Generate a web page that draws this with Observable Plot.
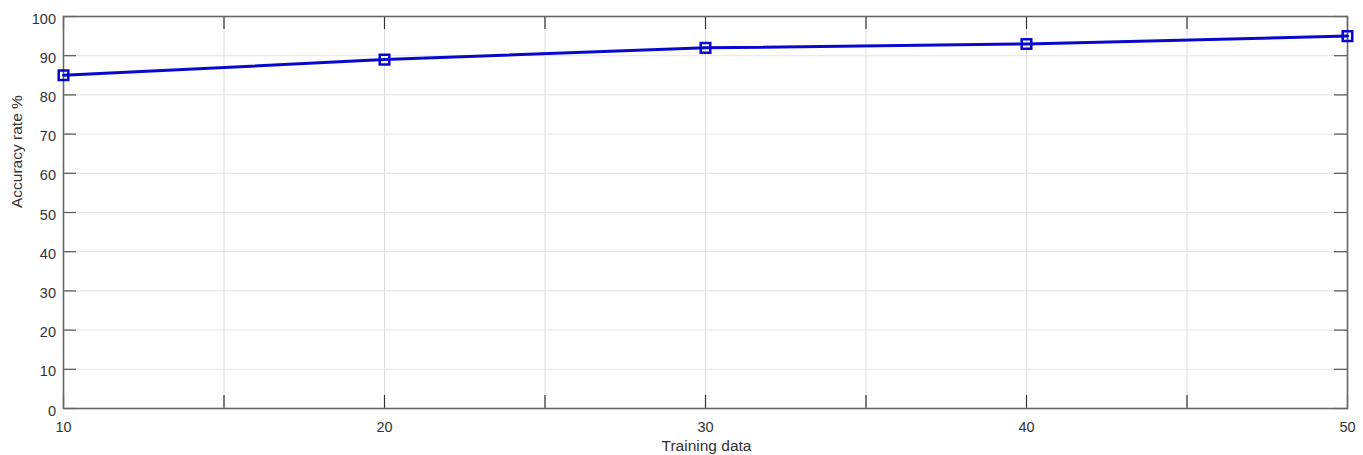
<!DOCTYPE html>
<html>
<head>
<meta charset="utf-8">
<script src="https://cdn.jsdelivr.net/npm/d3@7"></script>
<script src="https://cdn.jsdelivr.net/npm/@observablehq/plot@0.6"></script>
<style>
  html, body { margin: 0; padding: 0; background: #fff; }
  #chart svg { display: block; }
</style>
</head>
<body>
<div id="chart"></div>
<script>
const trainingData = [10, 20, 30, 40, 50];
const accuracy = [85, 89, 92, 93, 95];
const xTicks = [10, 15, 20, 25, 30, 35, 40, 45, 50];
const xLabelTicks = [10, 20, 30, 40, 50];
const yTicks = [0, 10, 20, 30, 40, 50, 60, 70, 80, 90, 100];

const rows = trainingData.map((t, i) => ({t, a: accuracy[i]}));

const W = 1363, H = 455;
const mL = 63, mR = 16, mT = 16, mB = 47;
const plotH = H - mT - mB;
const plotW = W - mL - mR;
const tickLen = 13;
const font = "Liberation Sans, Arial, Helvetica, sans-serif";

const chart = Plot.plot({
  width: W,
  height: H,
  marginLeft: mL,
  marginRight: mR,
  marginTop: mT,
  marginBottom: mB,
  style: {fontFamily: font, fontSize: "14.5px", color: "#333", background: "#fff"},
  x: {domain: [10, 50]},
  y: {domain: [0, 100]},
  marks: [
    Plot.gridX(xTicks, {stroke: "#dcdcdc", strokeOpacity: 1, strokeWidth: 1}),
    Plot.gridY(yTicks, {stroke: "#e4e4e4", strokeOpacity: 1, strokeWidth: 1}),
    // inward tick marks
    Plot.tickX(xTicks, {x: d => d, insetTop: plotH - tickLen, stroke: "#333", strokeWidth: 1.2}),
    Plot.tickX(xTicks, {x: d => d, insetBottom: plotH - tickLen, stroke: "#333", strokeWidth: 1.2}),
    Plot.tickY(yTicks, {y: d => d, insetRight: plotW - tickLen, stroke: "#555", strokeWidth: 1.2}),
    Plot.tickY(yTicks, {y: d => d, insetLeft: plotW - tickLen, stroke: "#555", strokeWidth: 1.2}),
    Plot.frame({stroke: "#666", strokeWidth: 1.6}),
    Plot.axisX(xLabelTicks, {tickSize: 0, tickPadding: 13, tickFormat: d => String(d), label: null, fill: "#333", fontSize: 14.5}),
    Plot.axisY(yTicks, {tickSize: 0, tickPadding: 7.5, tickFormat: d => String(d), label: null, dy: 2.5, fill: "#333", fontSize: 14.5}),
    Plot.line(rows, {x: "t", y: "a", stroke: "#0808cc", strokeWidth: 3}),
    Plot.dot(rows, {x: "t", y: "a", symbol: "square", r: 5.4, stroke: "#0808cc", strokeWidth: 2.5, fill: "none"}),
    Plot.text(["Training data"], {frameAnchor: "bottom", dy: 38, dx: 1, lineAnchor: "middle", fill: "#333", fontSize: 15.5}),
    Plot.text(["Accuracy rate %"], {frameAnchor: "left", dx: -46, dy: -4.5, rotate: -90, lineAnchor: "middle", fill: "#333", fontSize: 15.5})
  ]
});
document.getElementById("chart").appendChild(chart);
</script>
</body>
</html>
